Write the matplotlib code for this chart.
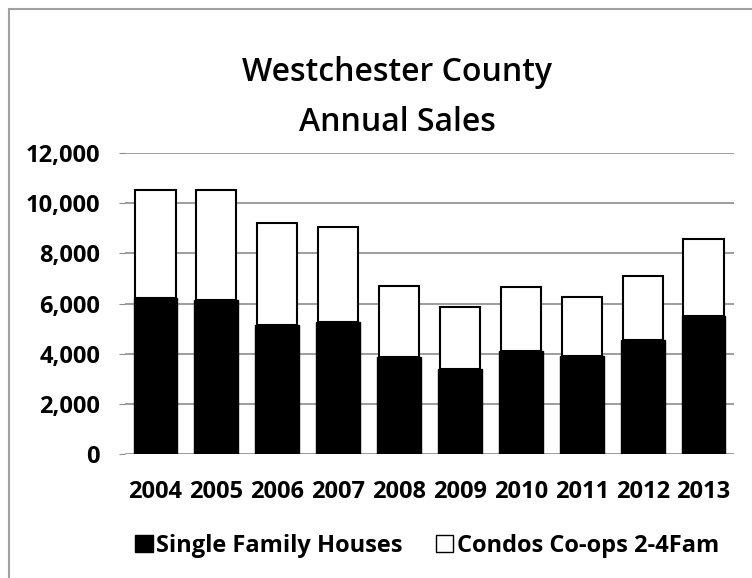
import matplotlib.pyplot as plt
from matplotlib.patches import Patch, Rectangle
from matplotlib.ticker import FuncFormatter

years = ["2004", "2005", "2006", "2007", "2008", "2009", "2010", "2011", "2012", "2013"]
single_family = [6210, 6140, 5130, 5250, 3855, 3400, 4110, 3910, 4550, 5510]
condos_coops = [4320, 4390, 4070, 3810, 2845, 2460, 2540, 2350, 2550, 3050]
y_ticks = [0, 2000, 4000, 6000, 8000, 10000, 12000]

plt.rcParams['font.family'] = ['Open Sans', 'DejaVu Sans']

W, H = 752, 578
fig = plt.figure(figsize=(W / 100, H / 100), dpi=100)
ax = fig.add_axes([125 / W, 1 - 454 / H, 609 / W, 301 / H])

# outer chart frame, only top and left edges fall inside the image
fig.patches.append(Rectangle((9 / W, -0.1), 1.2, 1 - 9 / H + 0.1,
                             transform=fig.transFigure, fill=False,
                             edgecolor='#a0a0a0', linewidth=1.5))

x = range(len(years))
ax.bar(x, single_family, width=0.72, color='black', edgecolor='black',
       linewidth=1.0, zorder=3)
ax.bar(x, condos_coops, bottom=single_family, width=0.66, color='white',
       edgecolor='black', linewidth=1.5, zorder=3)

ax.set_xlim(-0.5, len(years) - 0.5)
ax.set_ylim(0, 12000)
ax.set_yticks(y_ticks)
ax.yaxis.set_major_formatter(FuncFormatter(lambda v, p: f"{int(v):,}"))
ax.set_xticks(list(x))
ax.set_xticklabels(years)
ax.grid(axis='y', color='#8c8c8c', linewidth=1.2, zorder=0)
for side in ['top', 'right', 'left', 'bottom']:
    ax.spines[side].set_visible(False)
ax.tick_params(axis='x', length=0, pad=19, labelsize=17)
ax.tick_params(axis='y', length=4, color='#8c8c8c', pad=14, labelsize=17)
for lbl in ax.get_xticklabels() + ax.get_yticklabels():
    lbl.set_fontweight('bold')

fig.text(397 / W, 1 - 81 / H, "Westchester County", ha='center',
         va='baseline', fontsize=23, fontweight='semibold')
fig.text(397 / W, 1 - 131 / H, "Annual Sales", ha='center',
         va='baseline', fontsize=23, fontweight='semibold')

handles = [Patch(facecolor='black', edgecolor='black'),
           Patch(facecolor='white', edgecolor='black', linewidth=1)]
fig.legend(handles, ["Single Family Houses", "Condos Co-ops 2-4Fam"],
           loc='center', bbox_to_anchor=(427 / W, 1 - 546 / H), ncol=2,
           frameon=False, handlelength=0.75, handleheight=0.75,
           handletextpad=0.15, columnspacing=1.4,
           prop={'size': 17, 'weight': 'bold'})

fig.savefig("out.png", dpi=100, facecolor='white')
